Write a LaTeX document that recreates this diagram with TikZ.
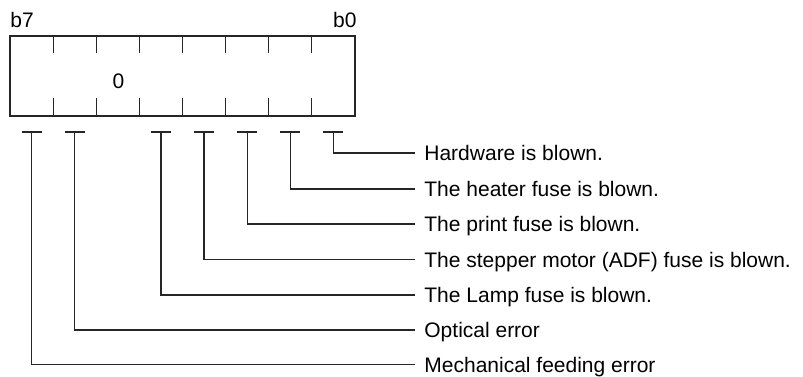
\documentclass[tikz,border=0pt]{standalone}
\usepackage{fontspec}
\setmainfont{Liberation Sans}
\usetikzlibrary{positioning}

\tikzset{
  regline/.style={line width=0.6pt, black!85},
  bitlabel/.style={anchor=west, inner sep=4.5pt, text height=7.5pt, text depth=0pt},
}

\begin{document}
\begin{tikzpicture}[x=0.5pt, y=-0.5pt, font=\fontsize{10.5}{12.6}\selectfont]
    \useasboundingbox (0,0) rectangle (803,376);

    % Status register box
    \node[draw, regline, minimum width=172.5pt, minimum height=40pt, inner sep=0pt, outer sep=0pt, anchor=north west] (reg) at (10,36) {};

    % Ticks between the bits
    \foreach \i in {1,...,7} {
        \draw[regline] ({10+43.125*\i},36) -- ++(0,17);
        \draw[regline] ({10+43.125*\i},116) -- ++(0,-18);
    }

    % Bit numbers and value
    \node[anchor=base west, inner sep=0pt] (b7) at (10,27) {b7};
    \node[anchor=base east, inner sep=0pt] (b0) at (357,27) {b0};
    \node[inner sep=0pt] (val) at (118.5,81) {0};

    % Bit lines to the labels
    \foreach \b/\y/\txt in {0/153/Hardware is blown.,
                            1/189/The heater fuse is blown.,
                            2/224/The print fuse is blown.,
                            3/259.5/The stepper motor (ADF) fuse is blown.,
                            4/295/The Lamp fuse is blown.,
                            6/330/Optical error,
                            7/364.5/Mechanical feeding error} {
        \coordinate (t\b) at ({10+43.125*(7.5-\b)},132);
        \draw[regline] (t\b) ++(-10,0) -- ++(20,0);
        \node[bitlabel] (lab\b) at (415,\y) {\txt};
        \draw[regline] (t\b) |- (lab\b.west);
    }

\end{tikzpicture}
\end{document}
